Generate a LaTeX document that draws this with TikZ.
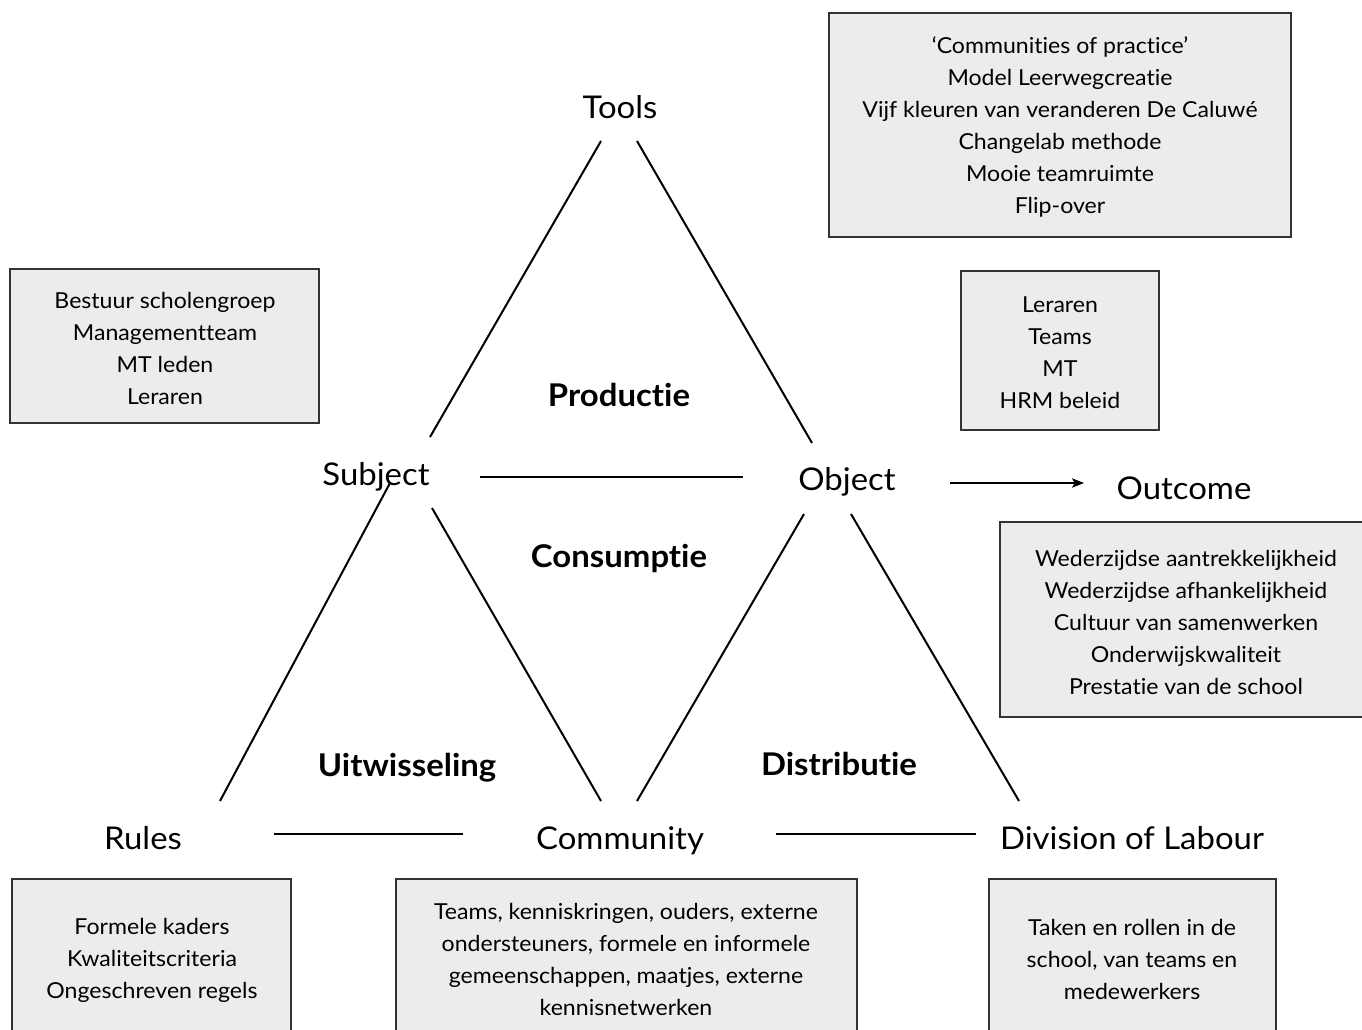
\documentclass[tikz,border=0pt]{standalone}
\usepackage{fontspec}
\setmainfont{Lato}[FakeStretch=1.05, Ligatures=NoCommon]
\usetikzlibrary{arrows.meta}
\definecolor{boxfill}{HTML}{EBECEB}
\definecolor{boxline}{HTML}{333333}
\begin{document}
\begin{tikzpicture}[x=0.75pt,y=-0.75pt,
  lbl/.style={font=\fontsize{23.5}{27}\selectfont, inner sep=0pt},
  bold/.style={font=\fontsize{23.5}{27}\selectfont\bfseries, inner sep=0pt},
  boxtxt/.style={font=\fontsize{16.5}{24}\selectfont, align=center, inner sep=0pt},
  boxstyle/.style={draw=boxline, fill=boxfill, line width=0.8pt},
  conn/.style={line width=1.5pt, black}]
\useasboundingbox (0,0) rectangle (1362,1030);
\clip (0,0) rectangle (1362,1030);
% boxes
\path[boxstyle] (829,13) rectangle (1291,237);
\path[boxstyle] (10,269) rectangle (319,423);
\path[boxstyle] (961,271) rectangle (1159,430);
\path[boxstyle] (1000,522) rectangle (1380,717);
\path[boxstyle] (12,879) rectangle (291,1050);
\path[boxstyle] (396,879) rectangle (857,1050);
\path[boxstyle] (989,879) rectangle (1276,1050);
% box texts
\node[boxtxt] (tt) at (1060,127) {‘Communities of practice’\\Model Leerwegcreatie\\Vijf kleuren van veranderen De Caluwé\\Changelab methode\\Mooie teamruimte\\Flip-over};
\node[boxtxt] (st) at (165,348) {Bestuur scholengroep\\Managementteam\\MT leden\\Leraren};
\node[boxtxt] (ot) at (1060,353) {Leraren\\Teams\\MT\\HRM beleid};
\node[boxtxt] (oct) at (1186,622) {Wederzijdse aantrekkelijkheid\\Wederzijdse afhankelijkheid\\Cultuur van samenwerken\\Onderwijskwaliteit\\Prestatie van de school};
\node[boxtxt] (rt) at (152,960) {Formele kaders\\Kwaliteitscriteria\\Ongeschreven regels};
\node[boxtxt] (ct) at (626,959) {Teams, kenniskringen, ouders, externe\\ondersteuners, formele en informele\\gemeenschappen, maatjes, externe\\kennisnetwerken};
\node[boxtxt] (dt) at (1132,959) {Taken en rollen in de\\school, van teams en\\medewerkers};
% labels
\node[lbl] (tools) at (620,107) {Tools};
\node[lbl] (subject) at (376,477) {Subject};
\node[lbl] (object) at (847,482) {Object};
\node[lbl] (outcome) at (1184,488) {Outcome};
\node[lbl] (rules) at (143,838) {Rules};
\node[lbl] (community) at (620,841) {Community};
\node[lbl] (division) at (1132,838) {Division of Labour};
\node[bold] (prod) at (619,395) {Productie};
\node[bold] (cons) at (619,559) {Consumptie};
\node[bold] (uit) at (407,768) {Uitwisseling};
\node[bold] (dist) at (839,764) {Distributie};
% connector end points
\coordinate (t1) at (601,141); \coordinate (s1) at (430,437);
\coordinate (t2) at (637,141); \coordinate (o1) at (812,443);
\coordinate (s2) at (480,477); \coordinate (o2) at (743,477);
\coordinate (o3) at (950,483); \coordinate (oc1) at (1084,483);
\coordinate (s3) at (390,483); \coordinate (r1) at (220,801);
\coordinate (s4) at (432,508); \coordinate (c1) at (601,801);
\coordinate (o4) at (804,514); \coordinate (c2) at (637,801);
\coordinate (o5) at (851,514); \coordinate (d1) at (1019,801);
\coordinate (r2) at (274,834); \coordinate (c3) at (463,834);
\coordinate (c4) at (776,834); \coordinate (d2) at (976,834);
\draw[conn] (t1) -- (s1);
\draw[conn] (t2) -- (o1);
\draw[conn] (s2) -- (o2);
\draw[conn] (s3) -- (r1);
\draw[conn] (s4) -- (c1);
\draw[conn] (o4) -- (c2);
\draw[conn] (o5) -- (d1);
\draw[conn] (r2) -- (c3);
\draw[conn] (c4) -- (d2);
\draw[line width=1pt, -{Stealth[length=9pt,width=7pt,inset=2pt]}] (o3) -- (oc1);
\end{tikzpicture}
\end{document}
